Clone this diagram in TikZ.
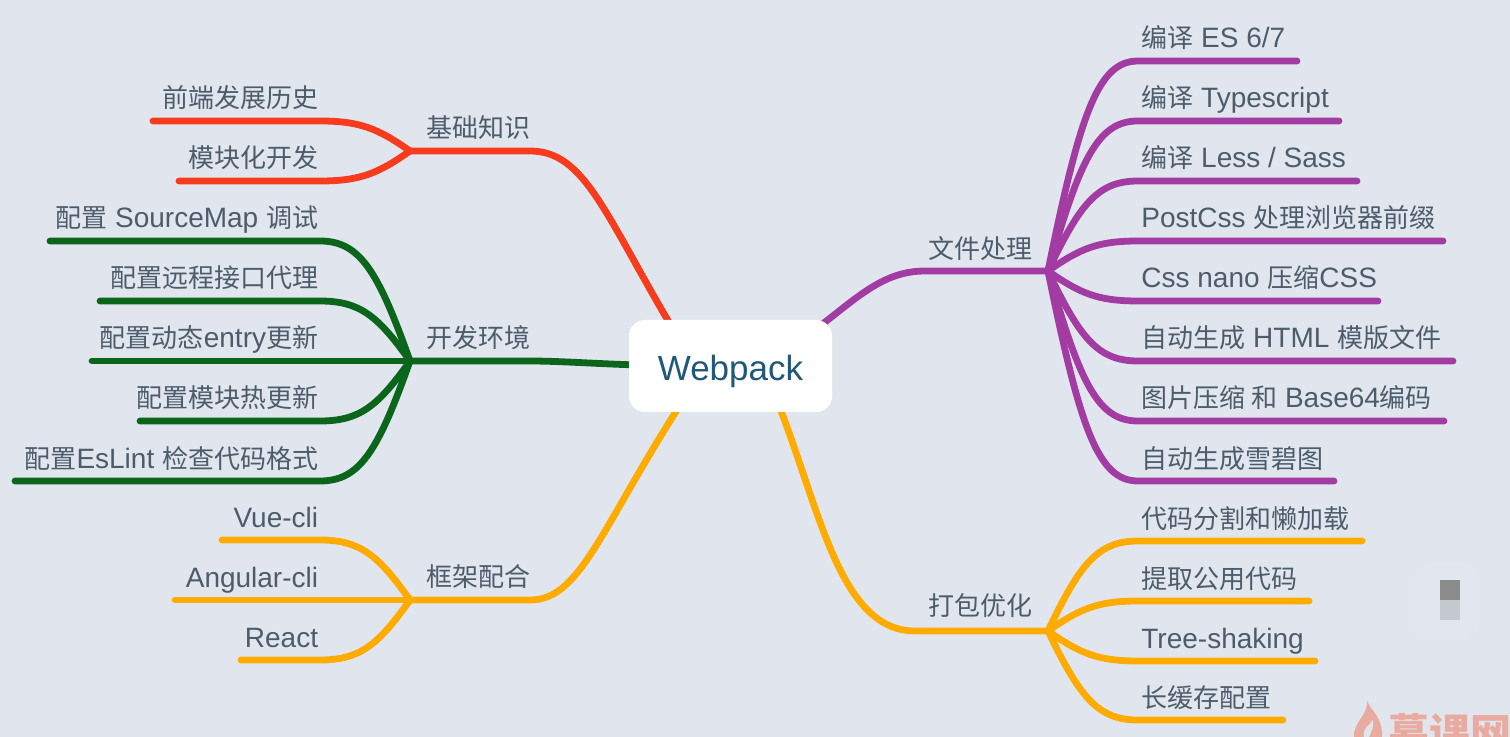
\documentclass[tikz,border=0pt]{standalone}
\usepackage{fontspec}
\setmainfont{Liberation Sans}
\newfontfamily\cjk{Noto Sans CJK SC}
\usetikzlibrary{positioning,calc}
\definecolor{pagebg}{HTML}{E1E6EE}
\definecolor{labelcol}{HTML}{4C5C6B}
\definecolor{rootcol}{HTML}{1F5878}
\definecolor{redline}{HTML}{F73C1E}
\definecolor{greenline}{HTML}{0B661C}
\definecolor{purpleline}{HTML}{A23CA2}
\definecolor{orangeline}{HTML}{FFAB00}
\definecolor{markcol}{HTML}{E9AAA0}
\pgfdeclarelayer{links}
\pgfsetlayers{links,main}
\tikzset{
    link/.style={line width=3.4pt,line cap=round,line join=round},
    root/.style={fill=white,rounded corners=8pt,minimum width=101.5pt,minimum height=46pt,inner sep=0pt,
        text height=17.8pt,text depth=3.7pt,text=rootcol,font=\fontsize{17.5}{20}\selectfont},
    topic/.style={inner sep=0pt,text=labelcol,font=\fontsize{13}{15}\cjk},
    leafl/.style={anchor=base east,inner sep=0pt,text=labelcol,font=\fontsize{14}{15}\selectfont},
    leafr/.style={anchor=base west,inner sep=0pt,text=labelcol,font=\fontsize{14}{15}\selectfont}
}
\newcommand{\zh}[1]{{\fontsize{13}{15}\cjk #1}}
\begin{document}
\begin{tikzpicture}[x=0.5pt,y=-0.5pt]
    \clip (0,0) rectangle (1510,737);
    \begin{pgfonlayer}{links}
        \fill[pagebg] (0,0) rectangle (1510,737);
    \end{pgfonlayer}

    % Centre
    \node[root] (root) at (730.5,366) {Webpack};

    % Basics
    \node[topic] (basic) at (478,128) {基础知识};
    \coordinate (basichub) at (410,151);
    \begin{pgfonlayer}{links}
        \draw[link,redline] ($(root.north)+(-56,12)$) .. controls (605,215) and (585,151) .. (530,151) -- (basichub);
    \end{pgfonlayer}
    \foreach \i/\y/\xe/\txt in {1/121/153/\zh{前端发展历史}, 2/181/179/\zh{模块化开发}} {
        \coordinate (basicend\i) at (\xe,\y);
        \node[leafl] (basic\i) at (318.5,\y-13) {\txt};
        \pgfmathsetmacro\dy{\y-151}
        \begin{pgfonlayer}{links}
            \draw[link,redline] (basichub) .. controls +(-32,0.75*\dy) and +(40,0) .. (320,\y) -- (basicend\i);
        \end{pgfonlayer}
    }

    % Dev environment
    \node[topic] (dev) at (478,338) {开发环境};
    \coordinate (devhub) at (410,361);
    \begin{pgfonlayer}{links}
        \draw[link,greenline] ($(root.west)+(10,-1)$) .. controls (600,364) and (560,361) .. (530,361) -- (devhub);
    \end{pgfonlayer}
    \foreach \i/\y/\xe/\txt in {1/241/50/{\zh{配置} SourceMap \zh{调试}},
        2/301/100/\zh{配置远程接口代理},
        3/361/92/{\zh{配置动态}entry\zh{更新}},
        4/421/140/\zh{配置模块热更新},
        5/481/15/{\zh{配置}EsLint \zh{检查代码格式}}} {
        \coordinate (devend\i) at (\xe,\y);
        \node[leafl] (dev\i) at (318.5,\y-13) {\txt};
        \pgfmathsetmacro\dy{\y-361}
        \begin{pgfonlayer}{links}
            \draw[link,greenline] (devhub) .. controls +(-32,0.75*\dy) and +(40,0) .. (320,\y) -- (devend\i);
        \end{pgfonlayer}
    }

    % Frameworks
    \node[topic] (frame) at (478,577) {框架配合};
    \coordinate (framehub) at (410,600);
    \begin{pgfonlayer}{links}
        \draw[link,orangeline] ($(root.south)+(-50,-8)$) .. controls (600,530) and (580,600) .. (530,600) -- (framehub);
    \end{pgfonlayer}
    \foreach \i/\y/\xe/\txt in {1/540/222/Vue-cli, 2/600/175/Angular-cli, 3/660/241/React} {
        \coordinate (frameend\i) at (\xe,\y);
        \node[leafl] (frame\i) at (318.5,\y-13) {\txt};
        \pgfmathsetmacro\dy{\y-600}
        \begin{pgfonlayer}{links}
            \draw[link,orangeline] (framehub) .. controls +(-32,0.75*\dy) and +(40,0) .. (320,\y) -- (frameend\i);
        \end{pgfonlayer}
    }

    % File handling
    \node[topic] (file) at (980,249) {文件处理};
    \coordinate (filehub) at (1048,271);
    \begin{pgfonlayer}{links}
        \draw[link,purpleline] ($(root.north)+(90,6)$) .. controls (860,295) and (885,271) .. (925,271) -- (filehub);
    \end{pgfonlayer}
    \foreach \i/\y/\xe/\txt in {1/61/1297/{\zh{编译} ES 6/7},
        2/121/1339/{\zh{编译} Typescript},
        3/181/1357/{\zh{编译} Less / Sass},
        4/241/1443/{PostCss \zh{处理浏览器前缀}},
        5/301/1378/{Css nano \zh{压缩}CSS},
        6/361/1453/{\zh{自动生成} HTML \zh{模版文件}},
        7/421/1444/{\zh{图片压缩 和} Base64\zh{编码}},
        8/481/1334/\zh{自动生成雪碧图}} {
        \coordinate (fileend\i) at (\xe,\y);
        \node[leafr] (file\i) at (1141,\y-13) {\txt};
        \pgfmathsetmacro\dy{\y-271}
        \begin{pgfonlayer}{links}
            \draw[link,purpleline] (filehub) .. controls +(32,0.75*\dy) and +(-40,0) .. (1138,\y) -- (fileend\i);
        \end{pgfonlayer}
    }

    % Bundle optimisation
    \node[topic] (pack) at (980,606) {打包优化};
    \coordinate (packhub) at (1048,631);
    \begin{pgfonlayer}{links}
        \draw[link,orangeline] ($(root.south)+(48,-8)$) .. controls (820,510) and (840,631) .. (915,631) -- (packhub);
    \end{pgfonlayer}
    \foreach \i/\y/\xe/\txt in {1/541/1362/\zh{代码分割和懒加载},
        2/601/1309/\zh{提取公用代码},
        3/661/1315/Tree-shaking,
        4/720/1283/\zh{长缓存配置}} {
        \coordinate (packend\i) at (\xe,\y);
        \node[leafr] (pack\i) at (1141,\y-13) {\txt};
        \pgfmathsetmacro\dy{\y-631}
        \begin{pgfonlayer}{links}
            \draw[link,orangeline] (packhub) .. controls +(32,0.75*\dy) and +(-40,0) .. (1138,\y) -- (packend\i);
        \end{pgfonlayer}
    }

    % Corner marks
    \fill[pagebg!95!white,rounded corners=10pt] (1412,562) rectangle (1480,640);
    \fill[black!45] (1440,580) rectangle (1460,600);
    \fill[black!13!pagebg] (1440,600) rectangle (1460,620);
    \fill[markcol] (1367,701) .. controls (1372,712) and (1383,718) .. (1382,737) -- (1354,737) .. controls (1353,722) and (1368,716) .. (1367,701) -- cycle;
    \fill[pagebg] (1369,737) .. controls (1372,730) and (1374,726) .. (1373,720) .. controls (1370,725) and (1362,728) .. (1364,737) -- cycle;
    \node[anchor=base west,inner sep=0pt,text=markcol,font=\fontsize{20.5}{24}\cjk\bfseries] (mark) at (1388,748) {慕课网};
\end{tikzpicture}
\end{document}
